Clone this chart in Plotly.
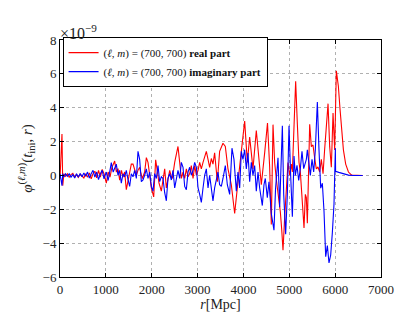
import plotly.graph_objects as go

# ---- data (values in units of 1e-9) ----
r_real = [0, 20, 43, 60, 85, 120, 160, 200, 240, 280, 320, 360, 400, 440, 480, 520, 560, 600, 640, 680,
          720, 760, 800, 840, 880, 920, 960, 1010, 1050, 1090, 1130, 1192, 1230, 1265, 1301, 1340, 1375,
          1410, 1446, 1480, 1520, 1555, 1592, 1630, 1665, 1700, 1737, 1766, 1796, 1846, 1883, 1919, 1956,
          1992, 2043, 2086, 2115, 2159, 2210, 2246, 2283, 2319, 2355, 2392, 2420, 2450, 2501, 2537, 2573,
          2610, 2646, 2683, 2719, 2755, 2792, 2828, 2864, 2901, 2937, 2974, 3010, 3046, 3082, 3119, 3155,
          3191, 3228, 3264, 3300, 3336, 3372, 3431, 3481, 3554, 3605, 3663, 3736, 3809, 3881, 3954, 3990,
          4027, 4085, 4136, 4172, 4208, 4281, 4332, 4390, 4463, 4525, 4572, 4608, 4645, 4681, 4720, 4754,
          4805, 4835, 4863, 4900, 4936, 4972, 5009, 5045, 5067, 5096, 5139, 5176, 5212, 5241, 5285, 5321,
          5350, 5372, 5394, 5423, 5445, 5481, 5517, 5555, 5590, 5625, 5663, 5699, 5736, 5770, 5808, 5845,
          5881, 5917, 5954, 5990, 6026, 6070, 6105, 6140, 6180, 6230, 6290, 6360, 6450, 6600]
real_part = [-0.2, 0.8, 2.45, -0.6, 0.1, -0.05, 0.1, -0.1, 0.05, 0.12, -0.1, 0.05, -0.12, 0.08, -0.05, -0.15,
             0.1, -0.1, 0.15, -0.2, 0.1, 0.25, -0.15, 0.3, -0.1, 0.35, 0.1, -0.46, 0.2, -0.1, 0.45, 0.85,
             0.2, 0.4, -0.28, 0.3, -0.1, 0.2, -0.84, -0.3, 0.2, 0.67, 0.67, 0.3, 0.01, 0.3, 0.48, 0.1, -0.18,
             0.2, 1.05, 0.77, -0.18, -0.74, -1.27, 0.92, 0.39, -0.46, -0.93, -0.18, 0.39, -0.74, -0.08, 0.3,
             0.0, -0.18, 0.77, 1.33, 1.71, 0.77, -0.18, 0.2, -0.18, 0.39, -0.08, 0.11, 0.58, -0.18, 0.58,
             0.01, 0.3, 0.77, 0.39, 0.77, 1.1, 1.42, 0.95, 0.48, 1.0, 0.67, 1.33, -0.37, 1.42, 1.9, 1.71,
             0.39, -0.55, -2.25, -0.37, 1.33, 2.08, 3.21, 0.77, 2.27, 1.33, 0.39, 2.65, 0.95, -0.55, 1.33,
             3.1, 0.5, -2.9, 3.0, 0.76, -0.3, -0.93, -2.16, -3.2, -4.42, -2.44, -0.75, 0.76, 0.01, 0.67, 0.2,
             2.64, 5.56, 3.02, 0.76, 0.2, -2.06, -3.1, -1.12, -1.31, -2.82, 0.76, 3.02, 1.7, 1.8, 1.0, 0.38,
             0.5, 0.2, 0.95, 0.1, 1.5, 3.21, 4.24, 1.7, 0.48, 3.68, 1.51, 6.18, 5.28, 3.97, 2.64, 1.51, 0.67,
             0.2, 0.02, 0.0, 0.0]

r_imag = [0, 20, 43, 60, 85, 120, 160, 200, 240, 280, 320, 360, 400, 440, 480, 520, 560, 600, 640, 680,
          720, 760, 800, 840, 880, 920, 960, 1010, 1050, 1090, 1119, 1160, 1192, 1228, 1265, 1301, 1337,
          1375, 1410, 1446, 1480, 1519, 1555, 1592, 1628, 1665, 1701, 1737, 1774, 1810, 1846, 1883, 1919,
          1956, 1992, 2028, 2064, 2101, 2137, 2174, 2210, 2246, 2283, 2319, 2355, 2392, 2428, 2464, 2501,
          2537, 2573, 2610, 2646, 2683, 2719, 2755, 2792, 2828, 2864, 2901, 2937, 2974, 3010, 3046, 3082,
          3119, 3155, 3191, 3228, 3263, 3300, 3336, 3372, 3409, 3445, 3481, 3518, 3554, 3605, 3649, 3700,
          3750, 3794, 3845, 3881, 3918, 3954, 3990, 4027, 4063, 4099, 4136, 4172, 4208, 4245, 4281, 4318,
          4354, 4412, 4448, 4477, 4521, 4557, 4608, 4666, 4700, 4754, 4790, 4849, 4878, 4921, 4958, 4994,
          5030, 5067, 5103, 5132, 5168, 5205, 5241, 5277, 5314, 5372, 5394, 5423, 5459, 5496, 5532, 5568,
          5612, 5648, 5685, 5721, 5757, 5794, 5830, 5866, 5903, 5939, 5975, 6005, 6010, 6080, 6150, 6220,
          6290, 6400, 6600]
imag_part = [0.1, -0.2, -0.6, 0.1, -0.1, 0.1, -0.05, 0.1, -0.1, 0.05, -0.15, 0.1, -0.1, 0.12, -0.08, 0.15,
             -0.05, 0.2, -0.15, 0.1, 0.3, -0.1, 0.2, -0.25, 0.1, 0.3, -0.2, 0.2, -0.3, 0.3, 0.76, 0.2, 0.4,
             0.67, 0.0, 0.3, -0.46, 0.1, -0.09, 0.3, -0.2, -0.65, 0.1, -0.08, 0.3, -0.18, 1.42, 0.95, -0.37,
             -0.27, 0.01, 0.39, -0.18, 0.2, -0.65, -0.93, 0.11, -0.18, 0.58, -0.37, -0.08, -0.18, -1.02, -1.5,
             -0.18, 0.11, -0.27, 0.3, -0.74, -0.18, 0.3, -0.18, 0.77, 0.48, -0.65, -0.84, 0.2, 0.48, 0.01,
             0.3, 0.77, 0.48, -0.74, -1.12, -1.59, -0.74, 0.01, 0.39, -0.74, 0.01, -0.93, -1.5, -0.74, -0.18,
             0.2, -0.55, -0.65, -0.18, 0.58, -0.55, -1.12, 1.61, 0.95, -0.93, 0.2, -0.74, 1.42, 0.95, 1.52,
             0.39, 1.33, -0.37, 0.77, 0.01, 0.58, -0.93, 0.2, -0.74, -1.78, -0.55, -0.18, -1.31, -0.37, -2.25,
             -3.23, -0.8, 1.04, -1.88, 2.93, -1.1, -3.48, -1.1, 2.93, 0.0, -2.44, 1.14, 0.0, 0.6, -0.3, 0.4,
             1.42, 0.4, 0.95, 1.51, 0.95, 0.0, 0.95, 0.2, 1.51, 4.34, 1.51, -0.75, -0.46, -2.1, -4.8, -4.14,
             -5.17, -4.7, -3.38, -1.69, 1.61, 0.24, 0.18, 0.12, 0.06, 0.02, 0.0, 0.0]

x_ticks = [0, 1000, 2000, 3000, 4000, 5000, 6000, 7000]
y_ticks = [-6, -4, -2, 0, 2, 4, 6, 8]

label_real = "(<i>ℓ</i>, <i>m</i>) = (700, 700) <b>real part</b>"
label_imag = "(<i>ℓ</i>, <i>m</i>) = (700, 700) <b>imaginary part</b>"

FONT = "Liberation Serif"

fig = go.Figure()
fig.add_trace(go.Scatter(x=r_real, y=real_part, mode="lines", name=label_real,
                         line=dict(color="#ff0000", width=1.1)))
fig.add_trace(go.Scatter(x=r_imag, y=imag_part, mode="lines", name=label_imag,
                         line=dict(color="#0000ff", width=1.1)))

axis_common = dict(showline=True, linecolor="black", linewidth=1, mirror="ticks",
                   ticks="inside", ticklen=4, tickcolor="black", tickwidth=1,
                   showgrid=True, gridcolor="#b0b0b0", griddash="dot", gridwidth=1,
                   zeroline=False, tickfont=dict(family=FONT, size=13, color="#222"))

fig.update_xaxes(range=[0, 7000], tickvals=x_ticks, ticktext=[str(v) for v in x_ticks],
                 title=dict(text="<i>r</i>[Mpc]", font=dict(family=FONT, size=14, color="#222"), standoff=2),
                 **axis_common)
fig.update_yaxes(range=[-6, 8], tickvals=y_ticks, ticktext=[("−" + str(-v)) if v < 0 else str(v) for v in y_ticks],
                 title=dict(text="<i>φ</i><sup>(<i>ℓ</i>,<i>m</i>)</sup>(<i>t</i><sub>ini</sub>, <i>r</i>)",
                            font=dict(family=FONT, size=15, color="#222"), standoff=6),
                 **axis_common)

fig.add_annotation(xref="paper", yref="paper", x=0.0, y=1.0, xanchor="left", yanchor="bottom",
                   text="×10<sup>−9</sup>", showarrow=False,
                   font=dict(family=FONT, size=16, color="#222"), xshift=-2, yshift=-4)

fig.update_layout(
    width=415, height=312,
    margin=dict(l=52, r=42, t=32, b=32),
    paper_bgcolor="white", plot_bgcolor="white",
    showlegend=True,
    legend=dict(x=0.008, y=1.012, xanchor="left", yanchor="top",
                bgcolor="white", bordercolor="black", borderwidth=1,
                font=dict(family=FONT, size=11, color="#111"),
                tracegroupgap=0, itemwidth=30),
    font=dict(family=FONT),
)

fig.write_html("out.html")
